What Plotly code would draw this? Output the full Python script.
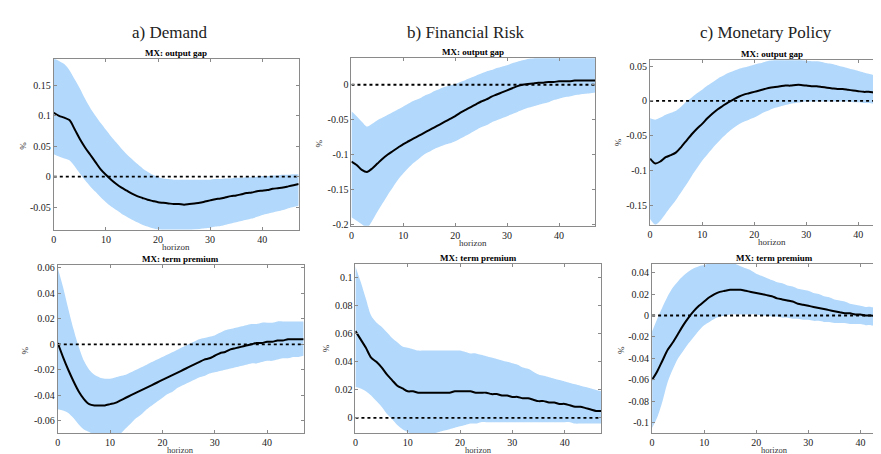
import plotly.graph_objects as go

horizon = list(range(48))

# a) Demand - output gap
a_og_med = [0.105,0.1,0.097,0.093,0.078,0.062,0.048,0.036,0.024,0.012,0.003,-0.005,-0.012,-0.018,-0.023,-0.028,-0.032,-0.035,-0.038,-0.040,-0.042,-0.043,-0.044,-0.045,-0.045,-0.046,-0.045,-0.044,-0.043,-0.041,-0.039,-0.037,-0.036,-0.034,-0.032,-0.031,-0.029,-0.027,-0.026,-0.024,-0.023,-0.022,-0.020,-0.019,-0.018,-0.016,-0.014,-0.012]
a_og_up = [0.195,0.19,0.185,0.175,0.16,0.145,0.128,0.113,0.1,0.088,0.077,0.066,0.056,0.046,0.037,0.029,0.021,0.014,0.008,0.003,-0.001,-0.003,-0.004,-0.005,-0.005,-0.005,-0.005,-0.005,-0.005,-0.005,-0.005,-0.004,-0.004,-0.003,-0.003,-0.002,-0.002,-0.001,-0.001,0.0,0.001,0.001,0.002,0.002,0.003,0.003,0.004,0.004]
a_og_lo = [0.037,0.033,0.03,0.027,0.017,0.005,-0.006,-0.016,-0.025,-0.034,-0.042,-0.049,-0.055,-0.061,-0.066,-0.071,-0.075,-0.079,-0.082,-0.085,-0.087,-0.088,-0.089,-0.089,-0.089,-0.089,-0.088,-0.087,-0.086,-0.085,-0.084,-0.082,-0.081,-0.079,-0.077,-0.075,-0.073,-0.071,-0.069,-0.066,-0.063,-0.061,-0.059,-0.057,-0.055,-0.052,-0.05,-0.048]

# a) Demand - term premium
a_tp_med = [0.001,-0.01,-0.02,-0.029,-0.037,-0.043,-0.047,-0.048,-0.048,-0.048,-0.047,-0.046,-0.044,-0.042,-0.04,-0.038,-0.036,-0.034,-0.032,-0.03,-0.028,-0.026,-0.024,-0.022,-0.02,-0.018,-0.016,-0.014,-0.012,-0.011,-0.009,-0.007,-0.006,-0.004,-0.003,-0.002,-0.001,0.0,0.001,0.001,0.002,0.002,0.003,0.003,0.004,0.004,0.004,0.004]
a_tp_up = [0.06,0.045,0.028,0.012,-0.002,-0.013,-0.02,-0.024,-0.026,-0.027,-0.027,-0.026,-0.025,-0.024,-0.022,-0.02,-0.018,-0.016,-0.014,-0.012,-0.01,-0.008,-0.006,-0.004,-0.002,0.0,0.002,0.004,0.005,0.006,0.007,0.009,0.011,0.012,0.013,0.014,0.015,0.016,0.016,0.017,0.017,0.017,0.018,0.018,0.018,0.018,0.018,0.018]
a_tp_lo = [-0.051,-0.052,-0.054,-0.058,-0.063,-0.067,-0.069,-0.071,-0.072,-0.072,-0.072,-0.071,-0.07,-0.066,-0.062,-0.058,-0.055,-0.051,-0.048,-0.045,-0.042,-0.039,-0.037,-0.034,-0.032,-0.03,-0.028,-0.026,-0.025,-0.023,-0.022,-0.021,-0.02,-0.019,-0.018,-0.017,-0.016,-0.015,-0.015,-0.014,-0.013,-0.013,-0.012,-0.011,-0.011,-0.01,-0.01,-0.009]

# b) Financial Risk - output gap
b_og_med = [-0.11,-0.115,-0.122,-0.125,-0.12,-0.113,-0.106,-0.1,-0.095,-0.09,-0.085,-0.081,-0.077,-0.073,-0.069,-0.065,-0.061,-0.057,-0.053,-0.049,-0.045,-0.04,-0.036,-0.032,-0.028,-0.024,-0.021,-0.017,-0.014,-0.011,-0.008,-0.005,-0.002,0.0,0.001,0.002,0.003,0.003,0.004,0.004,0.005,0.005,0.005,0.006,0.006,0.006,0.006,0.006]
b_og_up = [-0.038,-0.045,-0.053,-0.06,-0.056,-0.051,-0.047,-0.043,-0.039,-0.035,-0.031,-0.027,-0.023,-0.02,-0.016,-0.013,-0.009,-0.006,-0.003,-0.001,0.001,0.004,0.007,0.01,0.013,0.016,0.019,0.021,0.024,0.026,0.028,0.031,0.033,0.035,0.037,0.038,0.039,0.04,0.04,0.04,0.04,0.04,0.04,0.04,0.04,0.04,0.04,0.04]
b_og_lo = [-0.19,-0.195,-0.2,-0.205,-0.195,-0.182,-0.17,-0.158,-0.147,-0.136,-0.127,-0.119,-0.112,-0.106,-0.1,-0.096,-0.092,-0.089,-0.086,-0.084,-0.081,-0.077,-0.073,-0.069,-0.065,-0.061,-0.058,-0.054,-0.051,-0.048,-0.045,-0.042,-0.039,-0.036,-0.033,-0.031,-0.029,-0.027,-0.025,-0.022,-0.02,-0.018,-0.017,-0.015,-0.014,-0.013,-0.012,-0.011]

# b) Financial Risk - term premium
b_tp_med = [0.062,0.056,0.05,0.043,0.04,0.036,0.031,0.027,0.023,0.021,0.019,0.019,0.018,0.018,0.018,0.018,0.018,0.018,0.018,0.019,0.019,0.019,0.019,0.018,0.018,0.018,0.017,0.017,0.016,0.016,0.015,0.015,0.014,0.014,0.013,0.012,0.012,0.011,0.011,0.01,0.01,0.009,0.008,0.008,0.007,0.006,0.005,0.005]
b_tp_up = [0.108,0.097,0.085,0.073,0.068,0.065,0.061,0.057,0.054,0.051,0.05,0.049,0.048,0.048,0.048,0.048,0.048,0.048,0.048,0.048,0.048,0.047,0.046,0.046,0.045,0.044,0.043,0.042,0.041,0.04,0.039,0.038,0.036,0.035,0.033,0.031,0.03,0.029,0.028,0.027,0.026,0.025,0.024,0.023,0.022,0.021,0.02,0.019]
b_tp_lo = [0.022,0.021,0.019,0.016,0.012,0.008,0.003,-0.001,-0.005,-0.008,-0.01,-0.012,-0.013,-0.013,-0.012,-0.011,-0.01,-0.009,-0.008,-0.007,-0.006,-0.005,-0.004,-0.004,-0.003,-0.003,-0.003,-0.003,-0.003,-0.003,-0.003,-0.003,-0.003,-0.003,-0.003,-0.003,-0.003,-0.003,-0.003,-0.003,-0.003,-0.003,-0.004,-0.004,-0.004,-0.004,-0.004,-0.004]

# c) Monetary Policy - output gap
c_og_med = [-0.083,-0.09,-0.087,-0.081,-0.078,-0.074,-0.066,-0.057,-0.048,-0.04,-0.033,-0.025,-0.018,-0.012,-0.007,-0.002,0.002,0.006,0.009,0.011,0.013,0.015,0.017,0.019,0.02,0.021,0.022,0.022,0.023,0.023,0.022,0.021,0.021,0.02,0.019,0.018,0.017,0.017,0.016,0.015,0.014,0.013,0.013,0.012,0.011,0.01,0.009,0.008]
c_og_up = [-0.025,-0.027,-0.024,-0.02,-0.017,-0.014,-0.008,-0.001,0.005,0.011,0.016,0.022,0.027,0.032,0.036,0.04,0.043,0.046,0.048,0.05,0.052,0.054,0.056,0.058,0.059,0.06,0.06,0.06,0.06,0.059,0.058,0.057,0.057,0.056,0.054,0.053,0.051,0.049,0.047,0.045,0.043,0.041,0.039,0.037,0.035,0.033,0.031,0.029]
c_og_lo = [-0.17,-0.178,-0.172,-0.162,-0.152,-0.142,-0.131,-0.12,-0.108,-0.097,-0.086,-0.077,-0.068,-0.06,-0.052,-0.045,-0.039,-0.034,-0.03,-0.027,-0.024,-0.02,-0.016,-0.013,-0.01,-0.008,-0.006,-0.004,-0.003,-0.002,-0.001,-0.001,-0.001,-0.001,-0.001,-0.001,-0.001,-0.001,-0.001,-0.002,-0.002,-0.003,-0.003,-0.004,-0.004,-0.005,-0.005,-0.005]

# c) Monetary Policy - term premium
c_tp_med = [-0.06,-0.052,-0.042,-0.032,-0.025,-0.017,-0.009,-0.002,0.004,0.009,0.013,0.017,0.02,0.022,0.023,0.024,0.024,0.024,0.023,0.022,0.021,0.02,0.019,0.018,0.016,0.015,0.014,0.013,0.011,0.01,0.009,0.008,0.007,0.006,0.005,0.004,0.003,0.002,0.002,0.001,0.001,0.0,0.0,-0.0005,-0.001,-0.001,-0.001,-0.001]
c_tp_up = [-0.015,-0.003,0.008,0.018,0.026,0.032,0.037,0.041,0.044,0.046,0.047,0.049,0.05,0.05,0.05,0.049,0.048,0.046,0.044,0.042,0.039,0.037,0.035,0.033,0.031,0.03,0.028,0.027,0.025,0.024,0.023,0.021,0.02,0.018,0.017,0.015,0.014,0.013,0.011,0.01,0.009,0.008,0.008,0.007,0.006,0.006,0.005,0.005]
c_tp_lo = [-0.105,-0.095,-0.08,-0.062,-0.05,-0.04,-0.033,-0.026,-0.02,-0.014,-0.009,-0.006,-0.003,-0.001,0.0,0.001,0.001,0.001,0.001,0.001,0.001,0.0,0.0,-0.001,-0.001,-0.002,-0.002,-0.003,-0.003,-0.004,-0.004,-0.005,-0.005,-0.006,-0.006,-0.007,-0.007,-0.007,-0.008,-0.008,-0.008,-0.009,-0.009,-0.01,-0.01,-0.01,-0.011,-0.011]

column_titles = ["a) Demand", "b) Financial Risk", "c) Monetary Policy"]
row_titles = ["MX: output gap", "MX: term premium"]
y_ticks = [
    [-0.05, 0, 0.05, 0.1, 0.15],
    [-0.06, -0.04, -0.02, 0, 0.02, 0.04, 0.06],
    [-0.2, -0.15, -0.1, -0.05, 0],
    [0, 0.02, 0.04, 0.06, 0.08, 0.1],
    [-0.15, -0.1, -0.05, 0, 0.05],
    [-0.1, -0.08, -0.06, -0.04, -0.02, 0, 0.02, 0.04],
]
x_ticks = [0, 10, 20, 30, 40]

W, H = 881, 454
panels = [
    dict(med=a_og_med, up=a_og_up, lo=a_og_lo, box=(43, 289, 49, 222), xmax=47, yr=(-0.087, 0.193), pct=(12, 137)),
    dict(med=a_tp_med, up=a_tp_up, lo=a_tp_lo, box=(47, 294, 258, 429), xmax=47, yr=(-0.07, 0.0623), pct=(14, 345)),
    dict(med=b_og_med, up=b_og_up, lo=b_og_lo, box=(342, 587, 48, 218), xmax=47, yr=(-0.202, 0.038), pct=(309, 135)),
    dict(med=b_tp_med, up=b_tp_up, lo=b_tp_lo, box=(346, 593, 257, 429), xmax=47, yr=(-0.011, 0.1097), pct=(316, 343)),
    dict(med=c_og_med, up=c_og_up, lo=c_og_lo, box=(642, 881, 50, 217), xmax=45.7, yr=(-0.178, 0.0585), pct=(610, 133)),
    dict(med=c_tp_med, up=c_tp_up, lo=c_tp_lo, box=(644, 881, 257, 429), xmax=45.3, yr=(-0.11, 0.048), pct=(612, 344)),
]

band_color = "#b2d8fb"
axis_color = "#8a8a8a"
tick_font = dict(family="Liberation Serif", size=10, color="#222222")

fig = go.Figure()
layout = dict(width=W, height=H, margin=dict(l=0, r=0, t=0, b=0),
              paper_bgcolor="white", plot_bgcolor="white", showlegend=False)
annotations = []

for i, p in enumerate(panels):
    n = "" if i == 0 else str(i + 1)
    xa, ya = "x" + n, "y" + n
    l, r, t, b = p["box"]
    fig.add_trace(go.Scatter(x=horizon, y=p["up"], mode="lines",
                             line=dict(width=0, color=band_color, shape="spline", smoothing=0.8),
                             xaxis=xa, yaxis=ya, hoverinfo="skip"))
    fig.add_trace(go.Scatter(x=horizon, y=p["lo"], mode="lines",
                             line=dict(width=0, color=band_color, shape="spline", smoothing=0.8),
                             fill="tonexty", fillcolor=band_color, xaxis=xa, yaxis=ya, hoverinfo="skip"))
    fig.add_trace(go.Scatter(x=[horizon[0], horizon[-1]], y=[0, 0], mode="lines",
                             line=dict(color="black", width=1.8, dash="dot"), xaxis=xa, yaxis=ya))
    fig.add_trace(go.Scatter(x=horizon, y=p["med"], mode="lines",
                             line=dict(color="black", width=2, shape="spline", smoothing=0.8),
                             xaxis=xa, yaxis=ya))
    layout["xaxis" + n] = dict(domain=[l / W, r / W], range=[0, p["xmax"]], anchor=ya,
                               tickvals=x_ticks, ticks="inside", ticklen=3, tickcolor=axis_color,
                               showline=True, linecolor=axis_color, linewidth=1, mirror="ticks",
                               showgrid=False, zeroline=False, tickfont=tick_font)
    layout["yaxis" + n] = dict(domain=[1 - b / H, 1 - t / H], range=list(p["yr"]), anchor=xa,
                               tickvals=y_ticks[i], ticktext=[("%g" % v) for v in y_ticks[i]],
                               ticks="inside", ticklen=3, tickcolor=axis_color,
                               showline=True, linecolor=axis_color, linewidth=1, mirror="ticks",
                               showgrid=False, zeroline=False, tickfont=tick_font)
    cx = (l + r) / 2 if i < 4 else (l + l + 47 * (r - l) / p["xmax"]) / 2
    annotations.append(dict(text="<b>%s</b>" % row_titles[i % 2], x=cx / W, y=1 - (t - 6) / H,
                            xref="paper", yref="paper", showarrow=False, xanchor="center", yanchor="middle",
                            font=dict(family="Liberation Serif", size=9, color="black")))
    if i % 2 == 0:
        annotations.append(dict(text="horizon", x=cx / W, y=1 - (b + 18) / H,
                                xref="paper", yref="paper", showarrow=False, xanchor="center", yanchor="middle",
                                font=dict(family="Liberation Serif", size=9, color="#333333")))
    else:
        annotations.append(dict(text="horizon", x=cx / W, y=2.5 / H, borderpad=0,
                                xref="paper", yref="paper", showarrow=False, xanchor="center", yanchor="bottom",
                                font=dict(family="Liberation Serif", size=8.5, color="#333333")))
    annotations.append(dict(text="%", x=p["pct"][0] / W, y=1 - p["pct"][1] / H, textangle=-90,
                            xref="paper", yref="paper", showarrow=False, xanchor="center", yanchor="middle",
                            font=dict(family="Liberation Serif", size=9, color="#333333")))

for j, (title, cx) in enumerate(zip(column_titles, [160, 457, 758])):
    annotations.append(dict(text=title, x=cx / W, y=1 - 22 / H, xref="paper", yref="paper",
                            showarrow=False, xanchor="center", yanchor="middle",
                            font=dict(family="Liberation Serif", size=17, color="#222222")))

layout["annotations"] = annotations
fig.update_layout(**layout)
fig.write_html("out.html")
